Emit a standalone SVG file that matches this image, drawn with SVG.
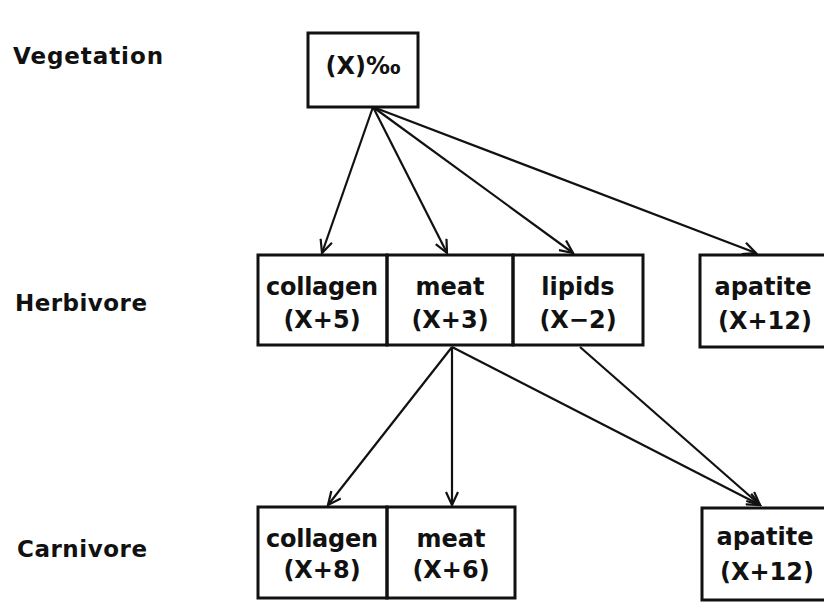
<svg xmlns="http://www.w3.org/2000/svg" width="824" height="602" viewBox="0 0 824 602">
<defs>
<style>
.bx{fill:none;stroke:#111;stroke-width:3}
.ln{fill:none;stroke:#111;stroke-width:2.2}
.lbl{font-family:"DejaVu Sans",sans-serif;font-weight:bold;font-size:23px;fill:#111}
.t{font-family:"DejaVu Sans",sans-serif;font-weight:bold;font-size:24px;fill:#111;text-anchor:middle}
</style>
<marker id="ah" markerWidth="16" markerHeight="14" refX="14" refY="7" orient="auto" markerUnits="userSpaceOnUse">
<path d="M1,1 L14,7 L1,13" fill="none" stroke="#111" stroke-width="2.2"/>
</marker>
</defs>
<rect width="824" height="602" fill="#fff"/>
<g id="row-labels">
<text class="lbl" x="13" y="64" textLength="150">Vegetation</text>
<text class="lbl" x="15" y="311" textLength="132">Herbivore</text>
<text class="lbl" x="17" y="557" textLength="130">Carnivore</text>
</g>
<g id="vegetation">
<rect class="bx" x="308" y="33" width="110" height="74"/>
<text class="t" x="363" y="74">(X)‰</text>
</g>
<g id="herb-collagen">
<rect class="bx" x="258" y="255" width="129" height="90"/>
<text class="t" x="322" y="295" textLength="112">collagen</text>
<text class="t" x="322" y="328">(X+5)</text>
</g>
<g id="herb-meat">
<rect class="bx" x="387" y="255" width="126" height="90"/>
<text class="t" x="450" y="295">meat</text>
<text class="t" x="450" y="328">(X+3)</text>
</g>
<g id="herb-lipids">
<rect class="bx" x="513" y="255" width="130" height="90"/>
<text class="t" x="578" y="295">lipids</text>
<text class="t" x="578" y="328">(X−2)</text>
</g>
<g id="herb-apatite">
<rect class="bx" x="700" y="255" width="140" height="92"/>
<text class="t" x="763" y="295">apatite</text>
<text class="t" x="765" y="329">(X+12)</text>
</g>
<g id="carn-collagen">
<rect class="bx" x="258" y="507" width="129" height="91"/>
<text class="t" x="322" y="547" textLength="112">collagen</text>
<text class="t" x="322" y="578">(X+8)</text>
</g>
<g id="carn-meat">
<rect class="bx" x="387" y="507" width="128" height="91"/>
<text class="t" x="451" y="547">meat</text>
<text class="t" x="451" y="578">(X+6)</text>
</g>
<g id="carn-apatite">
<rect class="bx" x="702" y="508" width="140" height="92"/>
<text class="t" x="765" y="545">apatite</text>
<text class="t" x="767" y="580">(X+12)</text>
</g>
<g id="connectors">
<line class="ln" x1="373" y1="107" x2="322" y2="253" marker-end="url(#ah)"/>
<line class="ln" x1="373" y1="107" x2="447" y2="253" marker-end="url(#ah)"/>
<line class="ln" x1="373" y1="107" x2="573" y2="253" marker-end="url(#ah)"/>
<line class="ln" x1="373" y1="107" x2="756" y2="253" marker-end="url(#ah)"/>
<line class="ln" x1="452" y1="347" x2="328" y2="505" marker-end="url(#ah)"/>
<line class="ln" x1="452" y1="347" x2="452" y2="505" marker-end="url(#ah)"/>
<line class="ln" x1="452" y1="347" x2="760" y2="505" marker-end="url(#ah)"/>
<line class="ln" x1="580" y1="347" x2="760" y2="505" marker-end="url(#ah)"/>
</g>
</svg>
